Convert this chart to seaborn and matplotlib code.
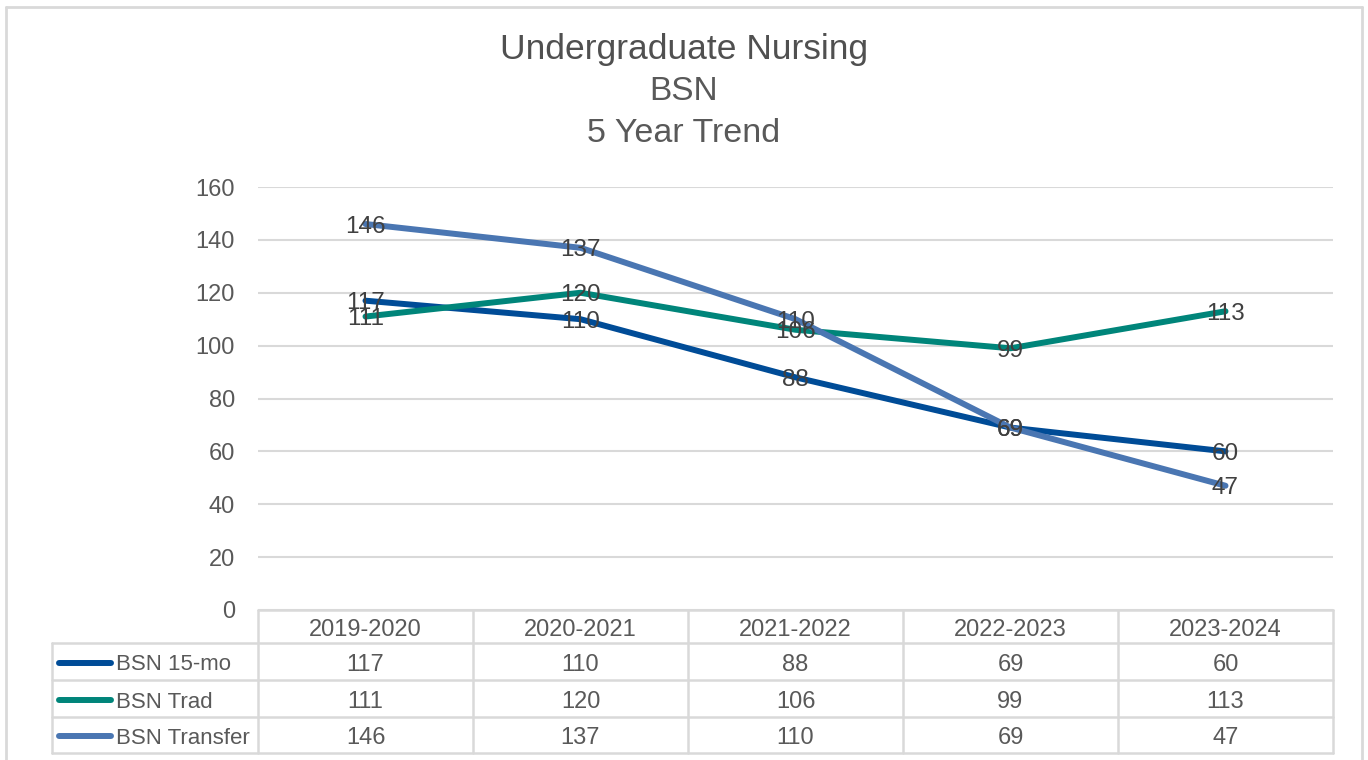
import matplotlib
matplotlib.use("Agg")
import matplotlib.pyplot as plt
import seaborn as sns
import pandas as pd
from matplotlib.lines import Line2D

categories = ["2019-2020", "2020-2021", "2021-2022", "2022-2023", "2023-2024"]
series_names = ["BSN 15-mo", "BSN Trad", "BSN Transfer"]
bsn_15mo = [117, 110, 88, 69, 60]
bsn_trad = [111, 120, 106, 99, 113]
bsn_transfer = [146, 137, 110, 69, 47]
y_ticks = [0, 20, 40, 60, 80, 100, 120, 140, 160]
title_lines = ["Undergraduate Nursing", "BSN", "5 Year Trend"]

colors = ["#004C97", "#00857A", "#4A76B2"]
series_values = [bsn_15mo, bsn_trad, bsn_transfer]

sns.set_theme(style="white")
plt.rcParams["font.family"] = ["Liberation Sans", "DejaVu Sans"]

W, H = 1368, 760
fig = plt.figure(figsize=(W / 100, H / 100), dpi=100)

def fx(px):
    return px / W

def fy(py):
    return 1 - py / H

# plot area
L, R, T, B = 258, 1333, 187, 610
ax = fig.add_axes([fx(L), fy(B), fx(R) - fx(L), fy(T) - fy(B)])

rows = []
for name, vals in zip(series_names, series_values):
    for i, c in enumerate(categories):
        rows.append({"year": c, "series": name, "value": vals[i], "xi": i})
df = pd.DataFrame(rows)

sns.lineplot(data=df, x="xi", y="value", hue="series", palette=colors,
             hue_order=series_names, linewidth=4.3, ax=ax, legend=False,
             sort=False, zorder=3)
for line in ax.lines:
    line.set_solid_capstyle("round")

for name, vals in zip(series_names, series_values):
    for i, v in enumerate(vals):
        ax.text(i, v, str(v), ha="center", va="center_baseline", fontsize=17.5,
                color="#404040", zorder=4)

ax.set_xlim(-0.5, len(categories) - 0.5)
ax.set_ylim(0, 160)
ax.set_yticks(y_ticks)
ax.set_yticklabels([str(t) for t in y_ticks], fontsize=17, color="#595959")
ax.tick_params(axis="y", length=0, pad=16.5)
ax.set_xticks([])
ax.set_xlabel("")
ax.set_ylabel("")
ax.grid(axis="y", color="#D9D9D9", linewidth=1.5, zorder=0)
ax.set_axisbelow(True)
for s in ax.spines.values():
    s.set_visible(False)
ax.patch.set_alpha(0)

# title
title_y = [50, 92, 133]
for txt, yy, fs, c in zip(title_lines, title_y, [25.5, 24, 24.5],
                          ["#505050", "#595959", "#595959"]):
    fig.text(fx(684), fy(yy), txt, ha="center", va="center", fontsize=fs,
             color=c)

# data table in pixel overlay
ov = fig.add_axes([0, 0, 1, 1])
ov.set_xlim(0, W)
ov.set_ylim(H, 0)
ov.axis("off")
gc = "#D9D9D9"
lw = 1.8
col_w = (R - L) / len(categories)
row_edges = [610, 643, 680, 717, 753]
tl = 52
ov.plot([L, R], [row_edges[0], row_edges[0]], color=gc, lw=lw)
for yy in row_edges[1:]:
    ov.plot([tl, R], [yy, yy], color=gc, lw=lw)
for j in range(len(categories) + 1):
    xx = L + j * col_w
    ov.plot([xx, xx], [row_edges[0], row_edges[-1]], color=gc, lw=lw)
ov.plot([tl, tl], [row_edges[1], row_edges[-1]], color=gc, lw=lw)

for j, c in enumerate(categories):
    ov.text(L + (j + 0.5) * col_w, (row_edges[0] + row_edges[1]) / 2 + 1, c,
            ha="center", va="center_baseline", fontsize=17, color="#595959")
for r, (name, vals, col) in enumerate(zip(series_names, series_values, colors)):
    yc = (row_edges[r + 1] + row_edges[r + 2]) / 2 + 1
    ov.add_line(Line2D([59, 111], [yc, yc], color=col, lw=4.3,
                       solid_capstyle="round"))
    ov.text(116, yc, name, ha="left", va="center_baseline", fontsize=16,
            color="#595959")
    for j, v in enumerate(vals):
        ov.text(L + (j + 0.5) * col_w, yc, str(v), ha="center",
                va="center_baseline", fontsize=17, color="#595959")

# outer chart border
ov.plot([6, 6], [H + 5, 7], color=gc, lw=2)
ov.plot([6, 1362], [7, 7], color=gc, lw=2)
ov.plot([1362, 1362], [7, H + 5], color=gc, lw=2)

fig.savefig("out.png", dpi=100)
